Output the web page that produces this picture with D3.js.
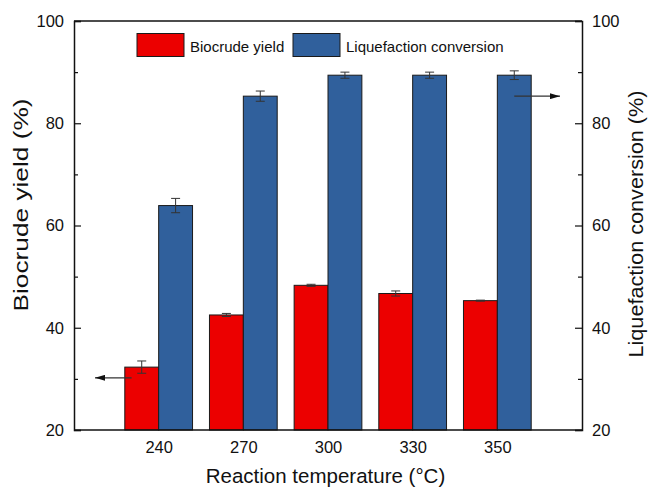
<!DOCTYPE html>
<html>
<head>
<meta charset="utf-8">
<script src="https://cdn.jsdelivr.net/npm/d3@7"></script>
<style>
  html, body { margin: 0; padding: 0; background: #ffffff; }
  svg { display: block; font-family: Arial, "Liberation Sans", sans-serif; }
</style>
</head>
<body>
<svg id="chart" width="648" height="488"></svg>
<script>
// ---- data ----
const categories = ["240", "270", "300", "330", "350"];
const biocrudeYield = [32.3, 42.5, 48.3, 46.7, 45.3];
const biocrudeErr = [1.2, 0.3, 0.2, 0.5, 0.1];
const liquefactionConversion = [63.9, 85.3, 89.4, 89.4, 89.4];
const liquefactionErr = [1.4, 1.0, 0.6, 0.6, 0.85];
const yTicks = [20, 40, 60, 80, 100];
const yMinorTicks = [30, 50, 70, 90];
const seriesNames = ["Biocrude yield", "Liquefaction conversion"];
const seriesColors = ["#ec0000", "#30609c"];
const xTitle = "Reaction temperature (°C)";
const yLeftTitle = "Biocrude yield (%)";
const yRightTitle = "Liquefaction conversion (%)";
const arrowLeftValue = 30.2;
const arrowRightValue = 85.3;

// ---- layout ----
const margin = { left: 74, right: 66, top: 21, bottom: 58 };
const W = 648, H = 488;
const x0 = margin.left, x1 = W - margin.right;
const y0 = H - margin.bottom, y1 = margin.top;

const svg = d3.select("#chart");

const x = d3.scalePoint().domain(categories).range([x0, x1]).padding(1);
const yL = d3.scaleLinear().domain([20, 100]).range([y0, y1]);
const yR = d3.scaleLinear().domain([20, 100]).range([y0, y1]);
const bw = x.step() * 0.4;

// bars
const g = svg.append("g");
g.selectAll("rect.red").data(categories).join("rect")
  .attr("x", d => x(d) - bw)
  .attr("y", (d, i) => yL(biocrudeYield[i]))
  .attr("width", bw)
  .attr("height", (d, i) => y0 - yL(biocrudeYield[i]))
  .attr("fill", seriesColors[0])
  .attr("stroke", "#1a1a1a").attr("stroke-width", 1);

g.selectAll("rect.blue").data(categories).join("rect")
  .attr("x", d => x(d))
  .attr("y", (d, i) => yR(liquefactionConversion[i]))
  .attr("width", bw)
  .attr("height", (d, i) => y0 - yR(liquefactionConversion[i]))
  .attr("fill", seriesColors[1])
  .attr("stroke", "#1a1a1a").attr("stroke-width", 1);

// error bars
function errorBars(vals, errs, scale, offset) {
  const eg = svg.append("g").attr("stroke", "#333").attr("stroke-width", 1).attr("fill", "none");
  categories.forEach((c, i) => {
    const cx = x(c) + offset;
    const top = scale(vals[i] + errs[i]), bot = scale(vals[i] - errs[i]);
    eg.append("line").attr("x1", cx).attr("x2", cx).attr("y1", top).attr("y2", bot);
    eg.append("line").attr("x1", cx - 4.5).attr("x2", cx + 4.5).attr("y1", top).attr("y2", top);
    eg.append("line").attr("x1", cx - 4.5).attr("x2", cx + 4.5).attr("y1", bot).attr("y2", bot);
  });
}
errorBars(biocrudeYield, biocrudeErr, yL, -bw / 2);
errorBars(liquefactionConversion, liquefactionErr, yR, bw / 2);

// axes frame
const axisColor = "#111";
svg.append("line").attr("x1", x0).attr("x2", x1).attr("y1", y0).attr("y2", y0)
  .attr("stroke", axisColor).attr("stroke-width", 1.5);
svg.append("line").attr("x1", x0).attr("x2", x1).attr("y1", y1).attr("y2", y1)
  .attr("stroke", axisColor).attr("stroke-width", 1.5);

// left axis
const axL = d3.axisLeft(yL).tickValues(yTicks).tickSize(-7).tickPadding(10).tickFormat(d3.format("d"));
const gL = svg.append("g").attr("transform", `translate(${x0},0)`).call(axL);
gL.select(".domain").attr("stroke", axisColor).attr("stroke-width", 1.5);
gL.selectAll(".tick line").attr("stroke", axisColor).attr("stroke-width", 1.2);
gL.selectAll(".tick text").attr("font-size", 16.5).attr("fill", "#111")
  .attr("font-family", "Arial, 'Liberation Sans', sans-serif");
const gLm = svg.append("g").attr("transform", `translate(${x0},0)`)
  .call(d3.axisLeft(yL).tickValues(yMinorTicks).tickSize(-4).tickFormat(""));
gLm.select(".domain").remove();
gLm.selectAll(".tick line").attr("stroke", axisColor).attr("stroke-width", 1.2);

// right axis
const axR = d3.axisRight(yR).tickValues(yTicks).tickSize(-7).tickPadding(10).tickFormat(d3.format("d"));
const gR = svg.append("g").attr("transform", `translate(${x1},0)`).call(axR);
gR.select(".domain").attr("stroke", axisColor).attr("stroke-width", 1.5);
gR.selectAll(".tick line").attr("stroke", axisColor).attr("stroke-width", 1.2);
gR.selectAll(".tick text").attr("font-size", 16.5).attr("fill", "#111")
  .attr("font-family", "Arial, 'Liberation Sans', sans-serif");
const gRm = svg.append("g").attr("transform", `translate(${x1},0)`)
  .call(d3.axisRight(yR).tickValues(yMinorTicks).tickSize(-4).tickFormat(""));
gRm.select(".domain").remove();
gRm.selectAll(".tick line").attr("stroke", axisColor).attr("stroke-width", 1.2);

// bottom axis labels (no tick marks)
const axB = d3.axisBottom(x).tickSize(0).tickPadding(11);
const gB = svg.append("g").attr("transform", `translate(0,${y0})`).call(axB);
gB.select(".domain").remove();
gB.selectAll(".tick text").attr("font-size", 16.5).attr("fill", "#111")
  .attr("font-family", "Arial, 'Liberation Sans', sans-serif");

// titles
svg.append("text").attr("x", (x0 + x1) / 2 - 2.5).attr("y", 483)
  .attr("text-anchor", "middle").attr("font-size", 20.5).attr("fill", "#111").text(xTitle);
svg.append("text").attr("transform", "translate(27.5,205) rotate(-90)")
  .attr("text-anchor", "middle").attr("font-size", 20.5).attr("fill", "#111")
  .attr("textLength", 213).attr("lengthAdjust", "spacingAndGlyphs").text(yLeftTitle);
svg.append("text").attr("transform", "translate(643,224) rotate(-90)")
  .attr("text-anchor", "middle").attr("font-size", 20.5).attr("fill", "#111")
  .attr("textLength", 267).attr("lengthAdjust", "spacingAndGlyphs").text(yRightTitle);

// legend
const legend = svg.append("g");
const legendX = [137, 293];
seriesNames.forEach((name, i) => {
  legend.append("rect").attr("x", legendX[i]).attr("y", 33.5).attr("width", 47).attr("height", 23)
    .attr("fill", seriesColors[i]).attr("stroke", "#1a1a1a").attr("stroke-width", 1);
  legend.append("text").attr("x", legendX[i] + 53).attr("y", 52)
    .attr("font-size", 15).attr("fill", "#111").text(name);
});

// arrows
const defs = svg.append("defs");
defs.append("marker").attr("id", "ah").attr("viewBox", "0 0 10 6")
  .attr("refX", 10).attr("refY", 3).attr("markerWidth", 10).attr("markerHeight", 6)
  .attr("markerUnits", "userSpaceOnUse").attr("orient", "auto")
  .append("path").attr("d", "M0,0 L10,3 L0,6 Z").attr("fill", "#111");
const aL = yL(arrowLeftValue);
svg.append("line").attr("x1", x(categories[0]) - bw * 0.8).attr("x2", x0 + 21).attr("y1", aL).attr("y2", aL)
  .attr("stroke", "#333").attr("stroke-width", 1.2).attr("marker-end", "url(#ah)");
const aR = yR(arrowRightValue);
svg.append("line").attr("x1", x(categories[4]) + bw * 0.5).attr("x2", x1 - 22).attr("y1", aR).attr("y2", aR)
  .attr("stroke", "#333").attr("stroke-width", 1.2).attr("marker-end", "url(#ah)");
</script>
</body>
</html>
